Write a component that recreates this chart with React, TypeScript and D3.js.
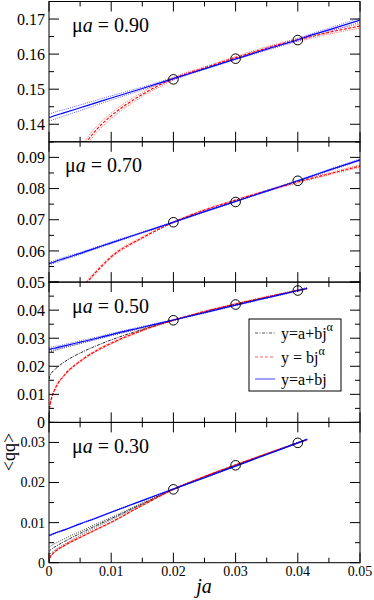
import React from 'react';
import * as d3 from 'd3';

const jGrid = [0, 0.0001, 0.00025, 0.0005, 0.001, 0.0025, 0.005, 0.0075, 0.01, 0.015, 0.02, 0.025, 0.03, 0.035, 0.04, 0.0415, 0.045, 0.05];
const jTicks = [0, 0.01, 0.02, 0.03, 0.04, 0.05];
const jTickLabels = ['0', '0.01', '0.02', '0.03', '0.04', '0.05'];
const jData = [0.02, 0.03, 0.04];

const muLabels = ['0.90', '0.70', '0.50', '0.30'];
const yDomains = [[0.135, 0.175], [0.05, 0.095], [0, 0.05], [0, 0.035]];
const yTicks = [
  [0.14, 0.15, 0.16, 0.17],
  [0.05, 0.06, 0.07, 0.08, 0.09],
  [0, 0.01, 0.02, 0.03, 0.04],
  [0, 0.01, 0.02, 0.03],
];
const yTickLabels = [
  ['0.14', '0.15', '0.16', '0.17'],
  ['0.05', '0.06', '0.07', '0.08', '0.09'],
  ['0', '0.01', '0.02', '0.03', '0.04'],
  ['0', '0.01', '0.02', '0.03'],
];

// measured <qq> at ja = 0.02, 0.03, 0.04
const qq090 = [0.1528, 0.1587, 0.1640];
const qq070 = [0.0692, 0.0757, 0.0825];
const qq050 = [0.0364, 0.0420, 0.0470];
const qq030 = [0.0183, 0.0243, 0.0299];

// y = a + bj (blue)
const lin090 = [0.1419, 0.1420, 0.1420, 0.1422, 0.1425, 0.1433, 0.1447, 0.1461, 0.1475, 0.1502, 0.1530, 0.1558, 0.1586, 0.1614, 0.1641, 0.1650, 0.1669, 0.1697];
const lin090Err = [0.0010, 0.0010, 0.0010, 0.0010, 0.0010, 0.0009, 0.0008, 0.0007, 0.0006, 0.0004, 0.0003, 0.0002, 0.0002, 0.0003, 0.0004, 0.0004, 0.0005, 0.0006];
const lin070 = [0.0559, 0.0560, 0.0561, 0.0562, 0.0566, 0.0576, 0.0592, 0.0609, 0.0626, 0.0659, 0.0692, 0.0726, 0.0759, 0.0792, 0.0825, 0.0835, 0.0859, 0.0892];
const lin070Err = [0.0004, 0.0004, 0.0004, 0.0004, 0.0004, 0.0004, 0.0003, 0.0003, 0.0003, 0.0002, 0.0002, 0.0002, 0.0002, 0.0002, 0.0002, 0.0002, 0.0003, 0.0003];
const lin050 = [0.0260, 0.0261, 0.0261, 0.0263, 0.0265, 0.0273, 0.0286, 0.0299, 0.0313, 0.0339, 0.0365, 0.0391, 0.0418, 0.0444, 0.0470, 0.0478, null, null];
const lin050Err = [0.0006, 0.0006, 0.0006, 0.0006, 0.0006, 0.0005, 0.0005, 0.0004, 0.0004, 0.0003, 0.0002, 0.0002, 0.0002, 0.0002, 0.0003, 0.0003, null, null];
const lin030 = [0.0068, 0.0069, 0.0069, 0.0071, 0.0074, 0.0082, 0.0097, 0.0111, 0.0126, 0.0155, 0.0184, 0.0212, 0.0241, 0.0270, 0.0299, 0.0308, null, null];
const lin030Err = [0.0001, 0.0001, 0.0001, 0.0001, 0.0001, 0.0001, 0.0001, 0.0001, 0.0001, 0.0001, 0.0001, 0.0001, 0.0001, 0.0001, 0.0001, 0.0001, null, null];

// y = b j^alpha (red)
const pow090 = [null, null, null, null, null, null, 0.1325, 0.1382, 0.1424, 0.1485, 0.1530, 0.1561, 0.1590, 0.1617, 0.1641, 0.1647, 0.1662, 0.1680];
const pow090Err = [null, null, null, null, null, null, 0.0009, 0.0009, 0.0008, 0.0006, 0.0004, 0.0003, 0.0003, 0.0004, 0.0004, 0.0005, 0.0005, 0.0006];
const pow070 = [null, null, null, null, null, null, 0.0474, 0.0531, 0.0581, 0.0642, 0.0692, 0.0731, 0.0763, 0.0793, 0.0821, 0.0829, 0.0847, 0.0872];
const pow070Err = [null, null, null, null, null, null, 0.0004, 0.0004, 0.0004, 0.0003, 0.0002, 0.0002, 0.0002, 0.0002, 0.0003, 0.0003, 0.0003, 0.0004];
const pow050 = [0, 0.0052, 0.0072, 0.0093, 0.0121, 0.0169, 0.0218, 0.0254, 0.0282, 0.0328, 0.0364, 0.0395, 0.0422, 0.0447, 0.0470, 0.0477, null, null];
const pow050Err = [0, 0.0003, 0.0003, 0.0003, 0.0003, 0.0003, 0.0003, 0.0003, 0.0003, 0.0002, 0.0002, 0.0002, 0.0002, 0.0002, 0.0002, 0.0002, null, null];
const pow030 = [0, 0.0010, 0.0016, 0.0021, 0.0028, 0.0043, 0.0063, 0.0082, 0.0101, 0.0143, 0.0183, 0.0215, 0.0244, 0.0272, 0.0299, 0.0307, null, null];
const pow030Err = [0, 0.0001, 0.0001, 0.0001, 0.0001, 0.0001, 0.0001, 0.0001, 0.0001, 0.0001, 0.0001, 0.0001, 0.0001, 0.0001, 0.0001, 0.0001, null, null];

// y = a + b j^alpha (black)
const gen050 = [0.0155, 0.0164, 0.0171, 0.0179, 0.0190, 0.0216, 0.0247, 0.0272, 0.0294, 0.0331, 0.0364, 0.0394, 0.0421, 0.0446, 0.0470, 0.0477, null, null];
const gen050Hi = [0.0250, 0.0251, 0.0252, 0.0254, 0.0257, 0.0266, 0.0281, 0.0296, 0.0310, 0.0337, 0.0365, null, null, null, null, null, null, null];
const gen030 = [0.0028, 0.0030, 0.0032, 0.0035, 0.0040, 0.0053, 0.0073, 0.0092, 0.0110, 0.0147, 0.0183, 0.0214, 0.0243, 0.0271, 0.0299, 0.0307, null, null];
const gen030Err = [0.0010, 0.0010, 0.0009, 0.0009, 0.0008, 0.0007, 0.0005, 0.0004, 0.0003, 0.0002, 0.0001, 0.0001, 0.0001, 0.0001, 0.0001, 0.0001, null, null];

type Vals = (number | null)[];
type Curve = { kind: 'gen' | 'pow' | 'lin'; vals: Vals; lo?: Vals; hi?: Vals };

const plusMinus = (v: Vals, e: Vals, s: number): Vals =>
  v.map((d, i) => (d == null || e[i] == null ? null : d + s * (e[i] as number)));

const band = (v: Vals, e: Vals) => ({ lo: plusMinus(v, e, -1), hi: plusMinus(v, e, 1) });

const panels: { qq: number[]; curves: Curve[]; labelX: number }[] = [
  {
    qq: qq090, labelX: 72,
    curves: [
      { kind: 'pow', vals: pow090, ...band(pow090, pow090Err) },
      { kind: 'lin', vals: lin090, ...band(lin090, lin090Err) },
    ],
  },
  {
    qq: qq070, labelX: 65,
    curves: [
      { kind: 'pow', vals: pow070, ...band(pow070, pow070Err) },
      { kind: 'lin', vals: lin070, ...band(lin070, lin070Err) },
    ],
  },
  {
    qq: qq050, labelX: 72,
    curves: [
      { kind: 'gen', vals: gen050, hi: gen050Hi },
      { kind: 'pow', vals: pow050, ...band(pow050, pow050Err) },
      { kind: 'lin', vals: lin050, ...band(lin050, lin050Err) },
    ],
  },
  {
    qq: qq030, labelX: 72,
    curves: [
      { kind: 'gen', vals: gen030, ...band(gen030, gen030Err) },
      { kind: 'pow', vals: pow030, ...band(pow030, pow030Err) },
      { kind: 'lin', vals: lin030, ...band(lin030, lin030Err) },
    ],
  },
];

const styles = {
  gen: { stroke: '#111', dash: '3,1,1,1', band: '#333', width: 0.9 },
  pow: { stroke: '#ff0000', dash: '3,1.5', band: '#ff5050', width: 1.1 },
  lin: { stroke: '#0000ff', dash: undefined, band: '#5050ff', width: 1.2 },
};

const W = 374;
const H = 600;
const left = 49;
const right = 360;
const top0 = 1.5;
const panelH = 140.3;
const font = 'Liberation Serif';

export default function App() {
  const x = d3.scaleLinear().domain([0, 0.05]).range([left, right]);
  const xMinor = d3.range(0, 0.0501, 0.005);

  return (
    <svg width={W} height={H} fontFamily={font} style={{ position: 'absolute', left: 0, top: 0, background: '#fff' }}>
      <defs>
        {panels.map((_, i) => (
          <clipPath id={`clip${i}`} key={i}>
            <rect x={left} y={top0 + i * panelH} width={right - left} height={panelH} />
          </clipPath>
        ))}
      </defs>
      {panels.map((p, i) => {
        const y0 = top0 + i * panelH;
        const y1 = y0 + panelH;
        const [lo, hi] = yDomains[i];
        const y = d3.scaleLinear().domain([lo, hi]).range([y1, y0]);
        const line = d3.line<number | null>()
          .defined((d) => d != null)
          .x((_, k) => x(jGrid[k]))
          .y((d) => y(d as number))
          .curve(d3.curveMonotoneX);
        const yMinor = d3.range(Math.ceil(lo / 0.005) * 0.005, hi + 1e-9, 0.005);
        const labelSize = i === 3 ? 14 : 16;
        return (
          <g key={i}>
            <g clipPath={`url(#clip${i})`}>
              {p.curves.map((c, k) => {
                const s = styles[c.kind];
                return (
                  <g key={k}>
                    {c.lo && <path d={line(c.lo) || ''} fill="none" stroke={s.band} strokeWidth={0.9} strokeDasharray="1,1.2" />}
                    {c.hi && <path d={line(c.hi) || ''} fill="none" stroke={s.band} strokeWidth={0.9} strokeDasharray="1,1.2" />}
                  </g>
                );
              })}
              {p.curves.map((c, k) => {
                const s = styles[c.kind];
                return (
                  <path key={k} d={line(c.vals) || ''} fill="none" stroke={s.stroke}
                    strokeWidth={s.width} strokeDasharray={s.dash} />
                );
              })}
              {p.qq.map((v, k) => (
                <circle key={k} cx={x(jData[k])} cy={y(v)} r={4.8} fill="none" stroke="#000" strokeWidth={1} />
              ))}
            </g>
            <rect x={left} y={y0} width={right - left} height={panelH} fill="none" stroke="#000" strokeWidth={1} />
            {xMinor.map((t, k) => {
              const len = k % 2 === 0 ? 10 : 5;
              return (
                <g key={`x${k}`} stroke="#000" strokeWidth={1}>
                  <line x1={x(t)} x2={x(t)} y1={y1} y2={y1 - len} />
                  <line x1={x(t)} x2={x(t)} y1={y0} y2={y0 + len} />
                </g>
              );
            })}
            {yMinor.map((t, k) => {
              const major = Math.abs(Math.round(t * 100) - t * 100) < 1e-6;
              const len = major ? 10 : 5;
              return (
                <g key={`y${k}`} stroke="#000" strokeWidth={1}>
                  <line x1={left} x2={left + len} y1={y(t)} y2={y(t)} />
                  <line x1={right} x2={right - len} y1={y(t)} y2={y(t)} />
                </g>
              );
            })}
            {yTicks[i].map((t, k) => (
              <text key={`yl${k}`} x={45} y={y(t)} dy="0.35em" textAnchor="end" fontSize={labelSize}>
                {yTickLabels[i][k]}
              </text>
            ))}
            <text x={p.labelX} y={y0 + 30.5} fontSize={20}>
              μ<tspan fontStyle="italic">a</tspan> = {muLabels[i]}
            </text>
          </g>
        );
      })}

      {/* x tick labels on the bottom panel */}
      {jTicks.map((t, k) => (
        <text key={k} x={x(t)} y={576} textAnchor="middle" fontSize={14}>{jTickLabels[k]}</text>
      ))}
      <text x={204} y={593} textAnchor="middle" fontSize={20} fontStyle="italic">ja</text>
      <text transform="translate(15,452) rotate(-90)" textAnchor="middle" fontSize={18}>{'<qq>'}</text>

      {/* legend */}
      <g>
        <rect x={249} y={319} width={92} height={72} fill="#fff" stroke="#000" strokeWidth={1} />
        <line x1={255} x2={275} y1={333} y2={333} stroke="#555" strokeWidth={1} strokeDasharray="3,1.5,1,1.5" />
        <text x={281} y={339} fontSize={16}>y=a+bj<tspan dy={-8} fontSize={12}>α</tspan></text>
        <line x1={255} x2={275} y1={357} y2={357} stroke="#ff6060" strokeWidth={1} strokeDasharray="3,2" />
        <text x={281} y={363} fontSize={16}>y = bj<tspan dy={-8} fontSize={12}>α</tspan></text>
        <line x1={255} x2={275} y1={379} y2={379} stroke="#6060ff" strokeWidth={1.2} />
        <text x={281} y={385} fontSize={16}>y=a+bj</text>
      </g>
    </svg>
  );
}
